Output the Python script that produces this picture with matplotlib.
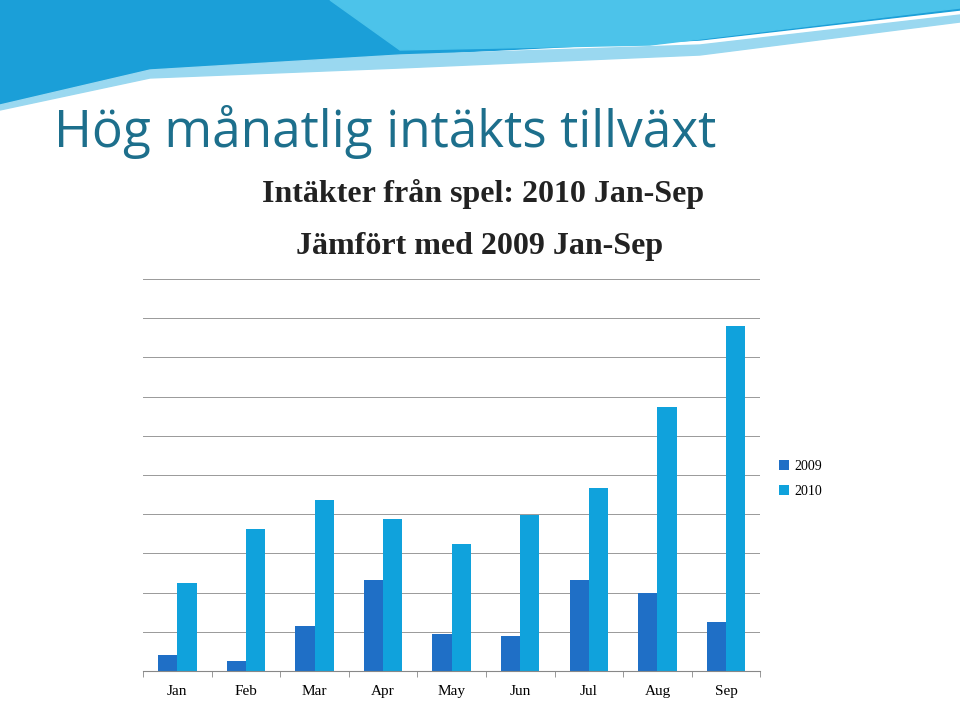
import numpy as np
import matplotlib.pyplot as plt
from matplotlib.patches import Polygon

months = ["Jan", "Feb", "Mar", "Apr", "May", "Jun", "Jul", "Aug", "Sep"]
rev_2009 = [0.41, 0.26, 1.15, 2.32, 0.94, 0.89, 2.32, 1.99, 1.25]
rev_2010 = [2.24, 3.62, 4.36, 3.88, 3.24, 3.98, 4.67, 6.73, 8.80]

c09 = "#1f6fc6"
c10 = "#10a2dc"

fig = plt.figure(figsize=(9.6, 7.16), dpi=100)

# header wave decoration
bg = fig.add_axes([0, 0, 1, 1], zorder=-1)
bg.set_xlim(0, 960); bg.set_ylim(716, 0); bg.axis("off")
bg.add_patch(Polygon([(0, 0), (960, 0), (960, 10), (700, 40), (400, 55), (150, 70), (0, 105)],
                     closed=True, color="#1b9fd8"))
bg.add_patch(Polygon([(330, 0), (960, 0), (960, 8), (650, 45), (400, 50)],
                     closed=True, color="#4cc3ea"))
bg.add_patch(Polygon([(0, 105), (150, 70), (400, 55), (700, 45), (960, 15), (960, 22),
                      (700, 55), (400, 68), (150, 78), (0, 110)], closed=True, color="#9ad8f0"))

fig.text(0.056, 0.795, "Hög månatlig intäkts tillväxt", fontsize=37, color="#1d6f8c",
         family="Open Sans", va="baseline")
fig.text(0.503, 0.718, "Intäkter från spel: 2010 Jan-Sep", fontsize=23, weight="bold",
         family="Liberation Serif", color="#222222", ha="center", va="baseline")
fig.text(0.50, 0.645, "Jämfört med 2009 Jan-Sep", fontsize=23, weight="bold",
         family="Liberation Serif", color="#222222", ha="center", va="baseline")

ax = fig.add_axes([0.149, 0.0628, 0.643, 0.5475])
x = np.arange(len(months))
w = 0.28
ax.bar(x - w / 2, rev_2009, w, color=c09, label="2009", zorder=2)
ax.bar(x + w / 2, rev_2010, w, color=c10, label="2010", zorder=2)
ax.set_xlim(-0.5, len(months) - 0.5)
ax.set_ylim(0, 10)
ax.set_yticks(np.arange(0, 11))
ax.set_yticklabels([])
ax.tick_params(axis="y", length=0)
ax.grid(axis="y", color="#999999", linewidth=0.7, zorder=0)
ax.set_xticks(x)
ax.set_xticklabels(months, family="Liberation Serif", fontsize=11)
ax.set_xticks(np.arange(-0.5, len(months)), minor=True)
ax.tick_params(axis="x", which="major", length=0, pad=10)
ax.tick_params(axis="x", which="minor", length=4, color="#888888")
for s in ["top", "right", "left"]:
    ax.spines[s].set_visible(False)
ax.spines["bottom"].set_color("#888888")

ax.legend(loc="center left", bbox_to_anchor=(1.01, 0.49), frameon=False,
          prop={"family": "Liberation Serif", "size": 10}, handlelength=0.7,
          handleheight=0.7, handletextpad=0.4, labelspacing=0.9)

fig.savefig("out.png", dpi=100)
